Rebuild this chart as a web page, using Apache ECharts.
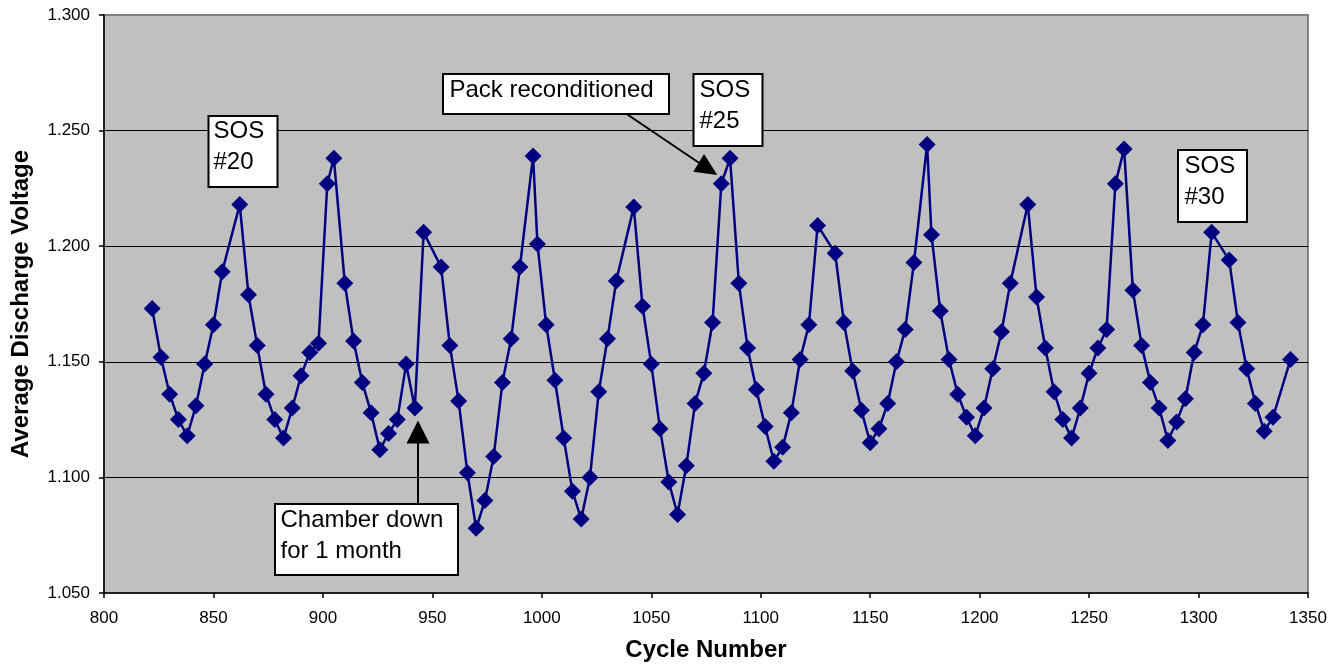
<!DOCTYPE html>
<html>
<head>
<meta charset="utf-8">
<script src="https://cdn.jsdelivr.net/npm/echarts@6/dist/echarts.min.js"></script>
<style>
html,body{margin:0;padding:0;background:#fff;}
#chart{width:1344px;height:667px;}
</style>
</head>
<body>
<div id="chart"></div>
<script>
const cycles = [822,826,830,834,838,842,846,850,854,862,866,870,874,878,882,886,890,894,898,902,
905,910,914,918,922,926,930,934,938,942,946,954,958,962,966,970,974,978,982,986,
990,996,998,1002,1006,1010,1014,1018,1022,1026,1030,1034,1042,1046,1050,1054,1058,1062,1066,1070,
1074,1078,1082,1086,1090,1094,1098,1102,1106,1110,1114,1118,1122,1126,1134,1138,1142,1146,1150,1154,
1158,1162,1166,1170,1176,1178,1182,1186,1190,1194,1198,1202,1206,1210,1214,1222,1226,1230,1234,1238,
1242,1246,1250,1254,1258,1262,1266,1270,1274,1278,1282,1286,1290,1294,1298,1302,1306,1314,1318,1322,
1326,1330,1334,1342];
const voltages = [1.173,1.152,1.136,1.125,1.118,1.131,1.149,1.166,1.189,1.218,1.179,1.157,1.136,1.125,1.117,1.130,1.144,1.154,1.158,1.227,
1.238,1.184,1.159,1.141,1.128,1.112,1.119,1.125,1.149,1.130,1.206,1.191,1.157,1.133,1.102,1.078,1.090,1.109,1.141,1.160,
1.191,1.239,1.201,1.166,1.142,1.117,1.094,1.082,1.100,1.137,1.160,1.185,1.217,1.174,1.149,1.121,1.098,1.084,1.105,1.132,
1.145,1.167,1.227,1.238,1.184,1.156,1.138,1.122,1.107,1.113,1.128,1.151,1.166,1.209,1.197,1.167,1.146,1.129,1.115,1.121,
1.132,1.150,1.164,1.193,1.244,1.205,1.172,1.151,1.136,1.126,1.118,1.130,1.147,1.163,1.184,1.218,1.178,1.156,1.137,1.125,
1.117,1.130,1.145,1.156,1.164,1.227,1.242,1.181,1.157,1.141,1.130,1.116,1.124,1.134,1.154,1.166,1.206,1.194,1.167,1.147,
1.132,1.120,1.126,1.151];
const xTitle = 'Cycle Number';
const yTitle = 'Average Discharge Voltage';
const notes = {
  sos20: 'SOS\n#20',
  sos25: 'SOS\n#25',
  sos30: 'SOS\n#30',
  chamber: 'Chamber down\nfor 1 month',
  pack: 'Pack reconditioned'
};

const FONT = '"Liberation Sans", Arial, sans-serif';
const chart = echarts.init(document.getElementById('chart'), null, {renderer: 'canvas'});

function box(x, y, w, h) {
  return {type: 'rect', z: 100, shape: {x: x, y: y, width: w, height: h},
    style: {fill: '#fff', stroke: '#000', lineWidth: 2}};
}
function label(x, y, t) {
  return {type: 'text', z: 101, x: x, y: y,
    style: {text: t, font: '24px ' + FONT, fill: '#000', lineHeight: 31, verticalAlign: 'top', align: 'left'}};
}

const graphics = [
  box(208.5, 116, 69, 71), label(213.5, 116, notes.sos20),
  box(693.5, 74, 69, 72), label(699.5, 74.5, notes.sos25),
  box(1178, 150, 69, 72), label(1184.5, 151, notes.sos30),
  box(275, 504, 183, 71), label(280.5, 504.5, notes.chamber),
  box(443, 74, 226, 40), label(449.5, 74.5, notes.pack),
  {type: 'line', z: 100, shape: {x1: 418, y1: 504, x2: 418, y2: 442}, style: {stroke: '#000', lineWidth: 2}},
  {type: 'polygon', z: 100, shape: {points: [[418, 420.5], [406.5, 443.5], [429.5, 443.5]]}, style: {fill: '#000'}},
  {type: 'line', z: 100, shape: {x1: 626.7, y1: 114, x2: 700, y2: 163.5}, style: {stroke: '#000', lineWidth: 2}},
  {type: 'polygon', z: 100, shape: {points: [[717.3, 175], [693.3, 171.7], [704, 154]]}, style: {fill: '#000'}}
];

const option = {
  animation: false,
  backgroundColor: '#fff',
  textStyle: {fontFamily: FONT},
  grid: {left: 104, right: 36, top: 15, bottom: 73, show: true, backgroundColor: '#c0c0c0',
    borderColor: '#808080', borderWidth: 2},
  xAxis: {
    type: 'value', min: 800, max: 1350, interval: 50,
    name: xTitle, nameLocation: 'middle', nameGap: 45,
    nameTextStyle: {fontSize: 24, fontWeight: 'bold', color: '#000', fontFamily: FONT},
    axisLine: {show: true, onZero: false, lineStyle: {color: '#000', width: 1.5}},
    axisTick: {show: true, length: 5, lineStyle: {color: '#000', width: 1.5}},
    axisLabel: {fontSize: 17, color: '#000', margin: 17, fontFamily: FONT,
      formatter: function (v) { return String(v); }},
    splitLine: {show: false}
  },
  yAxis: {
    type: 'value', min: 1.05, max: 1.30, interval: 0.05,
    name: yTitle, nameLocation: 'middle', nameGap: 71, nameRotate: 90,
    nameTextStyle: {fontSize: 24, fontWeight: 'bold', color: '#000', fontFamily: FONT},
    axisLine: {show: true, onZero: false, lineStyle: {color: '#000', width: 1.5}},
    axisTick: {show: true, length: 5, lineStyle: {color: '#000', width: 1.5}},
    axisLabel: {fontSize: 17, color: '#000', margin: 14, fontFamily: FONT,
      formatter: function (v) { return v.toFixed(3); }},
    splitLine: {show: true, showMinLine: false, showMaxLine: false, lineStyle: {color: '#000', width: 1.2}}
  },
  series: [{
    type: 'line',
    data: cycles.map(function (c, i) { return [c, voltages[i]]; }),
    symbol: 'diamond', symbolSize: 17,
    lineStyle: {color: '#000080', width: 2.5},
    itemStyle: {color: '#000080'},
    z: 5
  }],
  graphic: graphics
};
chart.setOption(option);
</script>
</body>
</html>
